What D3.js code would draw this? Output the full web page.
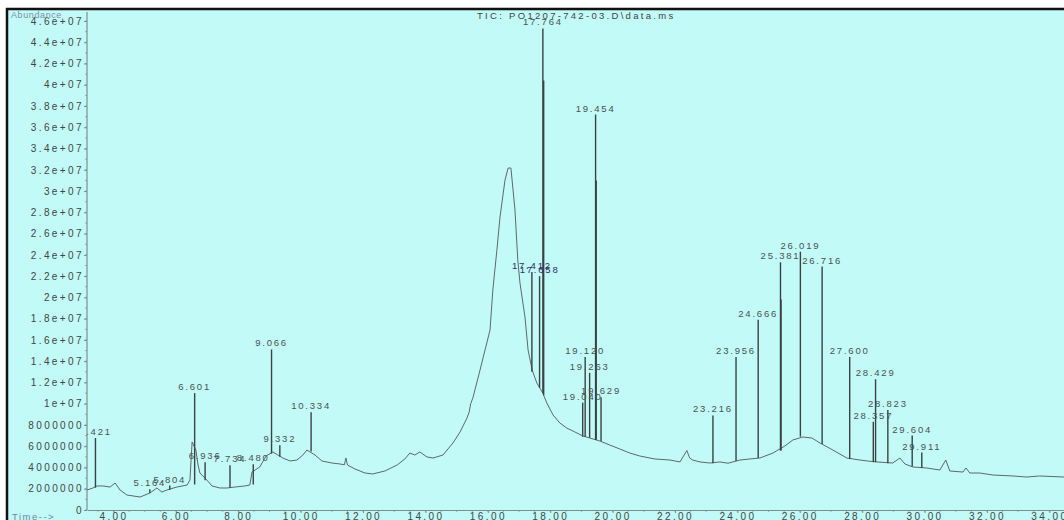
<!DOCTYPE html>
<html>
<head>
<meta charset="utf-8">
<script src="https://cdn.jsdelivr.net/npm/d3@7/dist/d3.min.js"></script>
<style>
    body { margin: 0; background: #ffffff; }
    svg text { font-family: "Liberation Sans", Arial, sans-serif; }
</style>
</head>
<body>
<svg id="SVGtic" width="1064" height="520"></svg>
<script>
"use strict";

// TIC trace, time in minutes / abundance in millions
const traceTime = [
    3.15, 3.34, 3.47, 3.66, 3.89, 4.05, 4.21, 4.43, 4.85, 5.17, 5.39, 5.55, 5.71, 6.03, 6.36, 6.45,
    6.52, 6.64, 6.71, 6.77, 6.99, 7.16, 7.41, 7.64, 7.89, 8.21, 8.37, 8.44, 8.69, 8.89, 9.11, 9.27,
    9.43, 9.66, 9.88, 10.07, 10.20, 10.46, 10.68, 11.00, 11.26, 11.40, 11.45, 11.50, 11.74, 12.06,
    12.31, 12.70, 13.09, 13.34, 13.50, 13.66, 13.82, 14.05, 14.24, 14.56, 14.88, 15.11, 15.33, 15.40,
    15.45, 15.52, 15.75, 15.91, 16.07, 16.16, 16.29, 16.39, 16.55, 16.65, 16.74, 16.87, 16.96, 17.03,
    17.19, 17.29, 17.42, 17.57, 17.76, 17.89, 18.09, 18.31, 18.53, 18.79, 19.05, 19.27, 19.59, 19.91,
    20.23, 20.55, 20.87, 21.35, 21.84, 22.16, 22.38, 22.47, 22.57, 22.80, 23.12, 23.44, 23.70, 24.08,
    24.40, 24.72, 25.14, 25.52, 25.78, 26.10, 26.39, 26.65, 27.06, 27.51, 27.93, 28.20, 28.47, 28.98,
    29.21, 29.37, 29.62, 30.07, 30.49, 30.68, 30.81, 31.23, 31.33, 31.45, 31.77, 32.19, 32.83, 33.28,
    33.69, 34.47
];
const traceAbund = [
    1.88, 2.07, 2.26, 2.26, 2.16, 2.54, 1.88, 1.41, 1.22, 1.60, 2.07, 1.69, 1.88, 2.16, 2.35, 2.82,
    6.40, 5.64, 4.23, 3.48, 2.82, 2.26, 2.07, 2.07, 2.16, 2.26, 2.35, 3.57, 4.05, 5.08, 5.46, 5.17,
    4.89, 4.61, 4.70, 5.17, 5.64, 5.17, 4.61, 4.42, 4.33, 4.25, 4.90, 4.23, 3.86, 3.48,
    3.39, 3.67, 4.23, 4.80, 5.36, 5.17, 5.46, 4.99, 4.89, 5.17, 6.30, 7.34, 8.65, 9.20,
    10.0, 10.54, 13.17, 15.05, 16.93, 20.70, 24.46, 27.56, 31.04, 32.17, 32.17, 28.22, 23.52, 21.35,
    18.16, 15.05, 13.17, 11.95, 11.01, 10.07, 8.94, 8.18, 7.71, 7.34, 6.96, 6.77, 6.49, 6.11,
    5.74, 5.36, 5.08, 4.80, 4.70, 4.52, 5.60, 4.89, 4.70, 4.52, 4.42, 4.52, 4.40, 4.70,
    4.80, 4.89, 5.36, 6.02, 6.59, 6.87, 6.77, 6.30, 5.64, 4.89, 4.70, 4.60, 4.52, 4.42,
    4.89, 4.33, 4.05, 3.95, 3.76, 4.70, 3.67, 3.57, 3.95, 3.48, 3.48, 3.29, 3.20, 3.10,
    3.20, 3.10
];

// integrated peaks: retention time, apex, foot (millions) and label
const peakTime = [
    3.421, 5.164, 5.804, 6.601, 6.936, 7.734, 8.480, 9.066, 9.332, 10.334,
    17.412, 17.658, 17.764, 17.790, 19.040, 19.120, 19.263, 19.454, 19.474, 19.629,
    23.216, 23.956, 24.666, 25.381, 25.400, 26.019, 26.716, 27.600, 28.357, 28.429,
    28.823, 29.604, 29.911
];
const peakTop = [
    6.77, 1.95, 2.30, 11.0, 4.50, 4.20, 4.30, 15.1, 6.10, 9.20,
    22.4, 22.0, 45.3, 40.4, 10.1, 14.4, 12.9, 37.2, 31.0, 10.6,
    8.90, 14.4, 17.9, 23.3, 19.8, 24.3, 22.9, 14.4, 8.30, 12.3,
    9.40, 7.00, 5.40
];
const peakBase = [
    2.10, 1.60, 1.90, 2.40, 2.80, 2.10, 2.40, 5.30, 5.00, 5.50,
    13.0, 11.5, 11.0, 10.8, 6.90, 6.90, 6.80, 6.60, 6.60, 6.50,
    4.40, 4.60, 4.90, 5.60, 5.60, 6.90, 6.20, 4.80, 4.50, 4.50,
    4.40, 4.10, 3.95
];
const peakLabel = [
    "3.421", "5.164", "5.804", "6.601", "6.936", "7.734", "8.480", "9.066", "9.332", "10.334",
    "17.412", "17.658", "17.764", "", "19.040", "19.120", "19.263", "19.454", "", "19.629",
    "23.216", "23.956", "24.666", "25.381", "", "26.019", "26.716", "27.600", "28.357", "28.429",
    "28.823", "29.604", "29.911"
];

const yTickValues = [0, 2, 4, 6, 8, 10, 12, 14, 16, 18, 20, 22, 24, 26, 28, 30, 32, 34, 36, 38, 40, 42, 44, 46];
const yTickLabels = [
    "0", "2000000", "4000000", "6000000", "8000000", "1e+07", "1.2e+07", "1.4e+07", "1.6e+07",
    "1.8e+07", "2e+07", "2.2e+07", "2.4e+07", "2.6e+07", "2.8e+07", "3e+07", "3.2e+07", "3.4e+07",
    "3.6e+07", "3.8e+07", "4e+07", "4.2e+07", "4.4e+07", "4.6e+07"
];
const xTickValues = [4, 6, 8, 10, 12, 14, 16, 18, 20, 22, 24, 26, 28, 30, 32, 34];
const xTickLabels = [
    "4.00", "6.00", "8.00", "10.00", "12.00", "14.00", "16.00", "18.00",
    "20.00", "22.00", "24.00", "26.00", "28.00", "30.00", "32.00", "34.00"
];
const titleText = "TIC: PO1207-742-03.D\\data.ms";

const tic = {
    SVG: d3.select("#SVGtic"),
    width: 1064,
    height: 520,
    frame: { left: 7, top: 9 },
    plot: { left: 87, right: 1064, top: 9, bottom: 510 },
    render: () => {
        const svg = tic.SVG;
        const p = tic.plot;
        const x = d3.scaleLinear().domain([3.15, 34.47]).range([p.left, p.right]);
        const y = d3.scaleLinear().domain([0, 46]).range([p.bottom, 21]);

        // cyan window with black frame
        svg.append("rect")
            .attr("x", tic.frame.left).attr("y", tic.frame.top)
            .attr("width", tic.width - tic.frame.left + 5).attr("height", tic.height)
            .style("fill", "#c2faf7")
            .style("stroke", "#111").style("stroke-width", 2.5);

        svg.append("clipPath").attr("id", "plotClip")
            .append("rect")
            .attr("x", p.left).attr("y", p.top + 1)
            .attr("width", p.right - p.left).attr("height", p.bottom - p.top);

        // minor ticks
        svg.append("g").selectAll("line").data(d3.range(0, 47, 1))
            .enter().append("line")
            .attr("x1", p.left - 2).attr("x2", p.left)
            .attr("y1", d => y(d)).attr("y2", d => y(d))
            .style("stroke", "#8a9a9a").style("stroke-width", 0.8);
        svg.append("g").selectAll("line").data(d3.range(3.5, 34.5, 0.5))
            .enter().append("line")
            .attr("x1", d => x(d)).attr("x2", d => x(d))
            .attr("y1", p.bottom).attr("y2", p.bottom + 2)
            .style("stroke", "#8a9a9a").style("stroke-width", 0.8);

        const yAxis = svg.append("g")
            .attr("class", "axis")
            .attr("transform", "translate(" + p.left + ",0)")
            .call(d3.axisLeft(y).tickValues(yTickValues)
                .tickFormat((d, i) => yTickLabels[i]).tickSize(3).tickSizeOuter(0));
        yAxis.select(".domain").attr("d", "M0," + (p.top + 3) + "V" + p.bottom);
        yAxis.selectAll("text").attr("x", -3);

        const xAxis = svg.append("g")
            .attr("class", "axis")
            .attr("transform", "translate(0," + p.bottom + ")")
            .call(d3.axisBottom(x).tickValues(xTickValues)
                .tickFormat((d, i) => xTickLabels[i]).tickSize(3).tickSizeOuter(0));
        xAxis.selectAll("text").attr("y", 3).attr("dy", "0.71em");

        svg.selectAll(".axis .domain").style("stroke", "#7f8f8f").style("stroke-width", 1.2);
        svg.selectAll(".axis .tick line").style("stroke", "#7f8f8f");
        svg.selectAll(".axis text")
            .style("fill", "#3e4646").style("font-size", "10px")
            .style("letter-spacing", "2.4px");

        const chart = svg.append("g").attr("clip-path", "url(#plotClip)");

        // baseline trace
        const pts = traceTime.map((t, i) => [t, traceAbund[i]]);
        chart.append("path")
            .datum(pts)
            .attr("d", d3.line().x(d => x(d[0])).y(d => y(d[1])))
            .style("fill", "none")
            .style("stroke", "#5f6868")
            .style("stroke-width", 1);

        // peak spikes
        const peaks = peakTime.map((t, i) => ({
            t: t, top: peakTop[i], base: peakBase[i], name: peakLabel[i]
        }));
        chart.selectAll(".peak").data(peaks)
            .enter().append("line")
            .attr("class", "peak")
            .attr("x1", d => x(d.t)).attr("x2", d => x(d.t))
            .attr("y1", d => y(d.base)).attr("y2", d => y(d.top))
            .style("stroke", "#3a4242")
            .style("stroke-width", 1.4);

        chart.selectAll(".peakText").data(peaks.filter(d => d.name !== ""))
            .enter().append("text")
            .attr("class", "peakText")
            .attr("x", d => x(d.t))
            .attr("y", d => y(d.top) - 3)
            .attr("text-anchor", "middle")
            .style("font-size", "9.5px")
            .style("letter-spacing", "1.8px")
            .style("fill", d => d.t > 17.3 && d.t < 17.7 ? "#2e2e6e" : "#4a5252")
            .text(d => d.name);

        // title and axis captions
        svg.append("text")
            .attr("x", 477).attr("y", 18.5)
            .style("font-size", "9.5px")
            .style("letter-spacing", "2.3px")
            .style("fill", "#3e4646")
            .text(titleText);
        svg.append("text")
            .attr("x", 11).attr("y", 18)
            .style("font-size", "9px")
            .style("letter-spacing", "0.6px")
            .style("fill", "#7f8fa8")
            .text("Abundance");
        svg.append("text")
            .attr("x", 12).attr("y", 520)
            .style("font-size", "9.5px")
            .style("letter-spacing", "1.5px")
            .style("fill", "#6f86a8")
            .text("Time-->");
    }
};

tic.render();
</script>
</body>
</html>
